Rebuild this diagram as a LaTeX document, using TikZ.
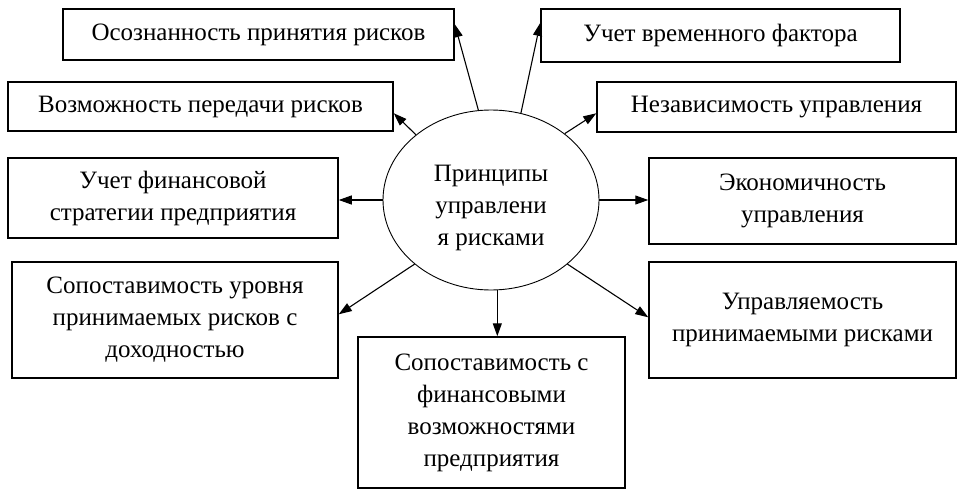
\documentclass[tikz,border=0pt]{standalone}
\usepackage{fontspec}
\setmainfont{Liberation Serif}
\usetikzlibrary{positioning, arrows.meta, shapes.geometric}

\begin{document}
\begin{tikzpicture}[x=1pt, y=-1pt,
                box/.style={draw=black, line width=1.5pt, align=center, inner sep=0pt, font=\fontsize{25}{32}\selectfont},
                arr/.style={line width=1.1pt, -{Triangle[length=13pt,width=9pt]}}]
                \useasboundingbox (0,0) rectangle (966,495);
                \node[ellipse, draw=black, line width=0.9pt, minimum width=216pt, minimum height=180pt, inner sep=0pt,
                    label={[align=center, font=\fontsize{25}{32}\selectfont, yshift=-8pt]center:{Принципы\\управлени\\я рисками}}] (princ) at (491,200) {};
                \node[box, minimum width=391pt, minimum height=51pt] (osozn) at (258.5,34.5) {Осознанность принятия рисков};
                \node[box, minimum width=359pt, minimum height=53pt] (vrem) at (720.5,35.5) {Учет временного фактора};
                \node[box, minimum width=385pt, minimum height=49pt] (pered) at (200.5,106.5) {Возможность передачи рисков};
                \node[box, minimum width=359pt, minimum height=50pt] (nezav) at (776.5,107) {Независимость управления};
                \node[box, minimum width=330pt, minimum height=80pt] (strat) at (173,198) {Учет финансовой\\стратегии предприятия};
                \node[box, minimum width=307pt, minimum height=86pt] (econ) at (802.5,201) {Экономичность\\управления};
                \node[box, minimum width=326pt, minimum height=116pt] (dohod) at (175,320) {Сопоставимость уровня\\принимаемых рисков с\\доходностью};
                \node[box, minimum width=307pt, minimum height=116pt] (upr) at (802.5,320) {Управляемость\\принимаемыми рисками};
                \node[box, minimum width=267pt, minimum height=151pt] (fin) at (491.5,412.5) {Сопоставимость с\\финансовыми\\возможностями\\предприятия};
                \draw[arr] (princ.98) -- (osozn.3);
                \draw[arr] (princ.71) -- (vrem.176);
                \draw[arr] (princ.139) -- (pered.-2);
                \draw[arr] (princ.42) -- (nezav.182);
                \draw[arr] (princ.west) -- (princ.west -| strat.east);
                \draw[arr] (princ.east) -- (princ.east -| econ.west);
                \draw[arr] (princ.220) -- (dohod.2);
                \draw[arr] (princ.320) -- (upr.179);
                \draw[arr] (princ.274) -- (princ.274 |- fin.north);
            \end{tikzpicture}
\end{document}
